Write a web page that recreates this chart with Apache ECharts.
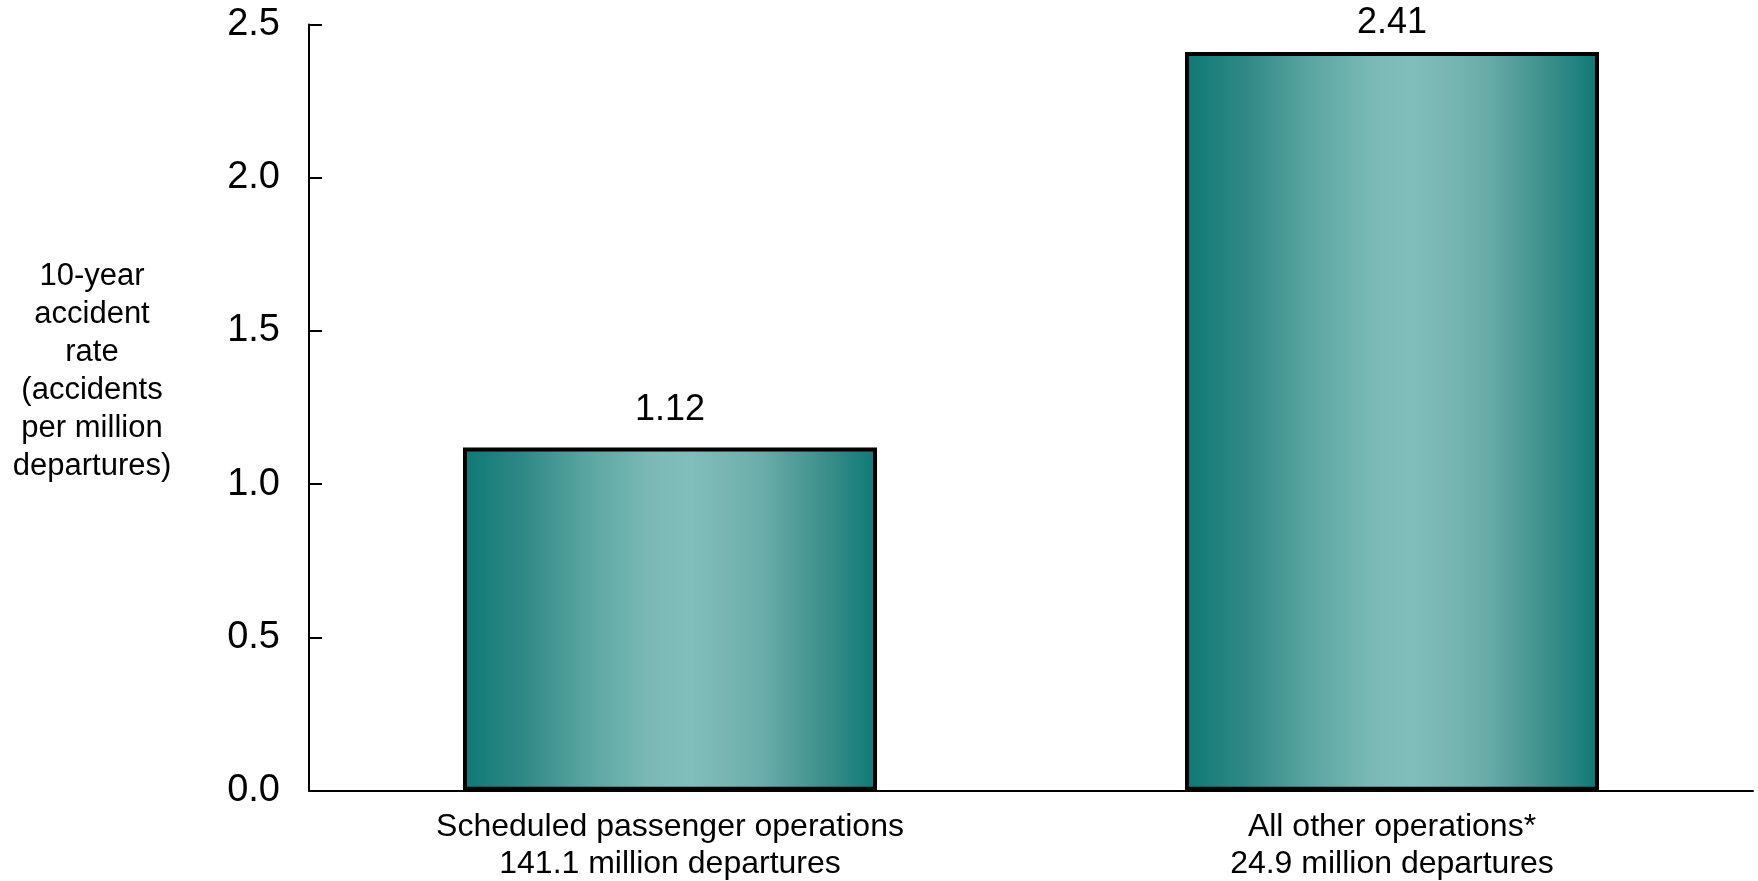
<!DOCTYPE html>
<html>
<head>
<meta charset="utf-8">
<script src="https://cdn.jsdelivr.net/npm/echarts@6/dist/echarts.min.js"></script>
<style>
html,body{margin:0;padding:0;background:#fff;}
#chart{width:1758px;height:881px;}
</style>
</head>
<body>
<div id="chart"></div>
<script>
const categories = ['Scheduled passenger operations\n141.1 million departures', 'All other operations*\n24.9 million departures'];
const values = [1.12, 2.41];
const yTicks = { min: 0, max: 2.5, interval: 0.5 };
const yAxisTitle = '10-year\naccident\nrate\n(accidents\nper million\ndepartures)';

const chart = echarts.init(document.getElementById('chart'));
const font = 'Liberation Sans, Arial, sans-serif';
// the top label sits closer to its bar so it stays inside the canvas
const labelDistances = [19, 11];
chart.setOption({
  animation: false,
  backgroundColor: '#ffffff',
  grid: { left: 309, right: 5, top: 24.5, bottom: 90.3, containLabel: false, outerBoundsMode: 'none' },
  graphic: [{
    type: 'text',
    x: 92, y: 371,
    style: {
      text: yAxisTitle,
      fill: '#000',
      font: '31px Liberation Sans, Arial, sans-serif',
      lineHeight: 38,
      align: 'center',
      verticalAlign: 'middle'
    }
  }],
  xAxis: {
    type: 'category',
    data: categories,
    axisLine: { lineStyle: { color: '#000', width: 2 } },
    axisTick: { show: false },
    axisLabel: { color: '#000', fontFamily: font, fontSize: 32, lineHeight: 37, margin: 18, interval: 0 }
  },
  yAxis: {
    type: 'value',
    min: yTicks.min, max: yTicks.max, interval: yTicks.interval,
    axisLine: { show: true, lineStyle: { color: '#000', width: 2 } },
    axisTick: { show: true, inside: true, length: 13, lineStyle: { color: '#000', width: 2 } },
    splitLine: { show: false },
    axisLabel: { color: '#000', fontFamily: font, fontSize: 38, margin: 29, formatter: v => v.toFixed(1) }
  },
  series: [{
    type: 'bar',
    data: values.map((v, i) => ({ value: v, label: { distance: labelDistances[i] } })),
    barWidth: 414,
    itemStyle: {
      borderColor: '#000',
      borderWidth: 4,
      color: {
        type: 'linear', x: 0, y: 0, x2: 1, y2: 0,
        colorStops: [
          { offset: 0, color: '#0d7975' },
          { offset: 0.15, color: '#318986' },
          { offset: 0.3, color: '#5aa5a1' },
          { offset: 0.45, color: '#7ab9b6' },
          { offset: 0.55, color: '#80bebb' },
          { offset: 0.72, color: '#6cadaa' },
          { offset: 0.88, color: '#3a8e8a' },
          { offset: 1, color: '#0d7975' }
        ]
      }
    },
    label: {
      show: true, position: 'top', color: '#000',
      fontFamily: font, fontSize: 36, formatter: p => p.value.toFixed(2)
    }
  }]
});
</script>
</body>
</html>
